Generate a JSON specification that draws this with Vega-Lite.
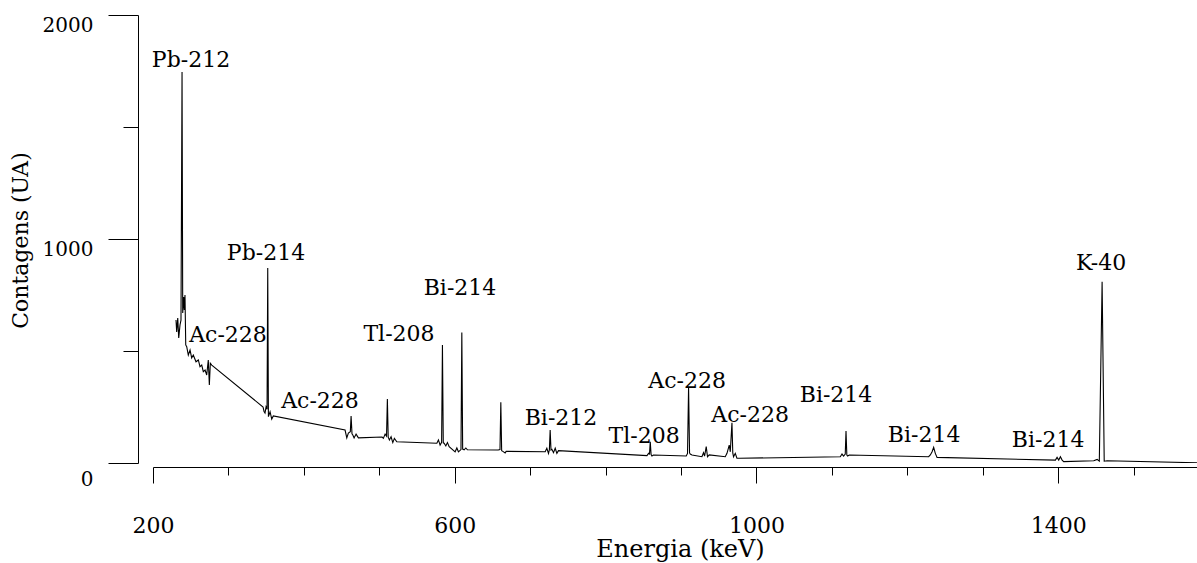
{
  "$schema": "https://vega.github.io/schema/vega-lite/v6.json",
  "width": 1044,
  "height": 448,
  "autosize": {"type": "none"},
  "padding": {"left": 153, "top": 15, "right": 0, "bottom": 100},
  "background": "white",
  "config": {"view": {"stroke": null}, "font": "DejaVu Serif"},
  "datasets": {
    "spectrum": [
      {"energia": 230.5, "contagens": 638}, {"energia": 231.4, "contagens": 585}, {"energia": 232.8, "contagens": 647},
      {"energia": 234.1, "contagens": 558}, {"energia": 235.8, "contagens": 616}, {"energia": 237.1, "contagens": 638},
      {"energia": 238.5, "contagens": 1745}, {"energia": 239.4, "contagens": 670}, {"energia": 240.7, "contagens": 741},
      {"energia": 241.5, "contagens": 683}, {"energia": 242.4, "contagens": 750}, {"energia": 243.4, "contagens": 527},
      {"energia": 244.7, "contagens": 519}, {"energia": 246.8, "contagens": 482}, {"energia": 249.1, "contagens": 504},
      {"energia": 251.3, "contagens": 469}, {"energia": 253.4, "contagens": 482}, {"energia": 257.0, "contagens": 452},
      {"energia": 260.1, "contagens": 460}, {"energia": 262.3, "contagens": 430}, {"energia": 264.6, "contagens": 437},
      {"energia": 266.7, "contagens": 408}, {"energia": 269.0, "contagens": 415}, {"energia": 271.2, "contagens": 393},
      {"energia": 273.3, "contagens": 460}, {"energia": 274.7, "contagens": 348}, {"energia": 276.0, "contagens": 445},
      {"energia": 277.9, "contagens": 437},
      {"energia": 345.9, "contagens": 250}, {"energia": 347.2, "contagens": 230}, {"energia": 348.5, "contagens": 223},
      {"energia": 349.9, "contagens": 251}, {"energia": 351.2, "contagens": 240}, {"energia": 352.1, "contagens": 870},
      {"energia": 353.0, "contagens": 207}, {"energia": 355.2, "contagens": 229}, {"energia": 357.4, "contagens": 196},
      {"energia": 359.5, "contagens": 210},
      {"energia": 454.6, "contagens": 147}, {"energia": 456.9, "contagens": 112}, {"energia": 459.0, "contagens": 134},
      {"energia": 461.6, "contagens": 140}, {"energia": 462.6, "contagens": 210}, {"energia": 463.8, "contagens": 130},
      {"energia": 464.9, "contagens": 125}, {"energia": 466.6, "contagens": 112}, {"energia": 469.2, "contagens": 129},
      {"energia": 472.3, "contagens": 112},
      {"energia": 503.7, "contagens": 116}, {"energia": 505.4, "contagens": 110}, {"energia": 507.7, "contagens": 129},
      {"energia": 509.6, "contagens": 120}, {"energia": 510.7, "contagens": 286}, {"energia": 511.8, "contagens": 115},
      {"energia": 513.4, "contagens": 103}, {"energia": 515.6, "contagens": 117}, {"energia": 517.9, "contagens": 91},
      {"energia": 520.0, "contagens": 110}, {"energia": 523.2, "contagens": 95},
      {"energia": 576.3, "contagens": 88}, {"energia": 578.4, "contagens": 103}, {"energia": 580.6, "contagens": 80},
      {"energia": 582.6, "contagens": 92}, {"energia": 583.7, "contagens": 527}, {"energia": 584.8, "contagens": 90},
      {"energia": 585.9, "contagens": 88}, {"energia": 588.2, "contagens": 76}, {"energia": 590.3, "contagens": 91},
      {"energia": 592.6, "contagens": 73},
      {"energia": 600.5, "contagens": 50}, {"energia": 602.8, "contagens": 67}, {"energia": 604.9, "contagens": 50},
      {"energia": 608.3, "contagens": 60}, {"energia": 609.4, "contagens": 583}, {"energia": 610.5, "contagens": 62},
      {"energia": 612.5, "contagens": 59}, {"energia": 614.7, "contagens": 67}, {"energia": 616.8, "contagens": 59},
      {"energia": 657.6, "contagens": 58}, {"energia": 660.0, "contagens": 60}, {"energia": 661.1, "contagens": 271},
      {"energia": 662.2, "contagens": 55}, {"energia": 663.8, "contagens": 52}, {"energia": 666.8, "contagens": 45},
      {"energia": 668.2, "contagens": 52},
      {"energia": 719.9, "contagens": 50}, {"energia": 722.1, "contagens": 66}, {"energia": 724.3, "contagens": 43},
      {"energia": 725.5, "contagens": 60}, {"energia": 726.5, "contagens": 147}, {"energia": 727.6, "contagens": 58},
      {"energia": 728.8, "contagens": 61}, {"energia": 730.9, "contagens": 46}, {"energia": 733.2, "contagens": 66},
      {"energia": 735.4, "contagens": 43}, {"energia": 737.5, "contagens": 55},
      {"energia": 854.8, "contagens": 33}, {"energia": 857.0, "contagens": 43}, {"energia": 858.2, "contagens": 40},
      {"energia": 859.2, "contagens": 95}, {"energia": 860.3, "contagens": 38}, {"energia": 861.4, "contagens": 31},
      {"energia": 863.5, "contagens": 36},
      {"energia": 906.9, "contagens": 31}, {"energia": 908.6, "contagens": 43}, {"energia": 910.0, "contagens": 338},
      {"energia": 911.3, "contagens": 45}, {"energia": 912.2, "contagens": 40}, {"energia": 914.5, "contagens": 36},
      {"energia": 927.7, "contagens": 28}, {"energia": 929.8, "contagens": 46}, {"energia": 931.2, "contagens": 31},
      {"energia": 933.4, "contagens": 73}, {"energia": 935.1, "contagens": 28}, {"energia": 937.4, "contagens": 36},
      {"energia": 958.6, "contagens": 28}, {"energia": 960.9, "contagens": 43}, {"energia": 963.9, "contagens": 80},
      {"energia": 965.3, "contagens": 50}, {"energia": 967.5, "contagens": 180}, {"energia": 968.6, "contagens": 45},
      {"energia": 969.6, "contagens": 28}, {"energia": 971.9, "contagens": 43}, {"energia": 974.1, "contagens": 21},
      {"energia": 977.6, "contagens": 21},
      {"energia": 1111.1, "contagens": 28}, {"energia": 1113.4, "contagens": 40}, {"energia": 1115.5, "contagens": 31},
      {"energia": 1117.7, "contagens": 40}, {"energia": 1118.7, "contagens": 143}, {"energia": 1119.8, "contagens": 35},
      {"energia": 1120.8, "contagens": 31}, {"energia": 1123.1, "contagens": 36},
      {"energia": 1228.2, "contagens": 28}, {"energia": 1230.5, "contagens": 36}, {"energia": 1232.8, "contagens": 50},
      {"energia": 1234.9, "contagens": 70}, {"energia": 1237.1, "contagens": 43}, {"energia": 1239.4, "contagens": 25},
      {"energia": 1396.3, "contagens": 13}, {"energia": 1398.5, "contagens": 25}, {"energia": 1400.7, "contagens": 13},
      {"energia": 1402.9, "contagens": 28}, {"energia": 1405.2, "contagens": 13}, {"energia": 1407.3, "contagens": 6},
      {"energia": 1447.1, "contagens": 10}, {"energia": 1451.6, "contagens": 16}, {"energia": 1454.5, "contagens": 8},
      {"energia": 1458.2, "contagens": 809}, {"energia": 1461.0, "contagens": 8}, {"energia": 1464.9, "contagens": 10},
      {"energia": 1584.0, "contagens": 1}
    ],
    "labels": [
      {"nuclideo": "Pb-212", "energia": 250.4, "contagens": 1768},
      {"nuclideo": "Pb-214", "energia": 349.8, "contagens": 906},
      {"nuclideo": "Ac-228", "energia": 299.4, "contagens": 540},
      {"nuclideo": "Ac-228", "energia": 421.4, "contagens": 246},
      {"nuclideo": "Tl-208", "energia": 526.1, "contagens": 545},
      {"nuclideo": "Bi-214", "energia": 607.0, "contagens": 750},
      {"nuclideo": "Bi-212", "energia": 740.9, "contagens": 170},
      {"nuclideo": "Tl-208", "energia": 851.0, "contagens": 89},
      {"nuclideo": "Ac-228", "energia": 908.0, "contagens": 335},
      {"nuclideo": "Ac-228", "energia": 991.5, "contagens": 183},
      {"nuclideo": "Bi-214", "energia": 1105.5, "contagens": 272},
      {"nuclideo": "Bi-214", "energia": 1222.2, "contagens": 94},
      {"nuclideo": "Bi-214", "energia": 1386.6, "contagens": 71},
      {"nuclideo": "K-40", "energia": 1456.8, "contagens": 862}
    ]
  },
  "layer": [
    {
      "data": {"name": "spectrum"},
      "mark": {"type": "line", "color": "black", "strokeWidth": 1.1, "clip": true},
      "encoding": {
        "x": {
          "field": "energia", "type": "quantitative",
          "scale": {"domain": [200, 1584], "nice": false, "zero": false},
          "axis": {
            "title": "Energia (keV)",
            "values": [200, 300, 400, 500, 600, 700, 800, 900, 1000, 1100, 1200, 1300, 1400, 1500],
            "format": "d",
            "labelExpr": "datum.value % 400 == 200 ? datum.label : ''",
            "tickSize": {"condition": {"test": "datum.value % 400 == 200", "value": 16}, "value": 8},
            "offset": 4,
            "grid": false,
            "domainColor": "black", "tickColor": "black", "domainWidth": 1, "tickWidth": 1,
            "labelFont": "DejaVu Serif", "labelFontSize": 22, "labelColor": "black",
            "labelBaseline": "alphabetic", "labelPadding": 49, "labelFlush": false, "labelOverlap": false,
            "titleFont": "DejaVu Serif", "titleFontSize": 24, "titleFontWeight": "normal", "titleColor": "black",
            "titleX": 527, "titleY": 89, "titleBaseline": "alphabetic", "titleAlign": "center"
          }
        },
        "y": {
          "field": "contagens", "type": "quantitative",
          "scale": {"domain": [0, 2000], "nice": false},
          "axis": {
            "title": "Contagens (UA)",
            "values": [0, 500, 1000, 1500, 2000],
            "format": "d",
            "labelExpr": "datum.value % 1000 == 0 ? datum.label : ''",
            "tickSize": {"condition": {"test": "datum.value % 1000 == 0", "value": 30}, "value": 15},
            "offset": 15,
            "grid": false,
            "domainColor": "black", "tickColor": "black", "domainWidth": 1, "tickWidth": 1,
            "labelFont": "DejaVu Serif", "labelFontSize": 20, "labelColor": "black",
            "labelPadding": 15, "labelFlush": false, "labelOverlap": false,
            "labelOffset": {"condition": {"test": "datum.value == 0", "value": 16}, "value": 10},
            "titleFont": "DejaVu Serif", "titleFontSize": 22, "titleFontWeight": "normal", "titleColor": "black",
            "titleX": -118, "titleY": 225, "titleAngle": -90, "titleAlign": "center", "titleBaseline": "middle"
          }
        }
      }
    },
    {
      "data": {"name": "labels"},
      "mark": {"type": "text", "font": "DejaVu Serif", "fontSize": 22, "align": "center", "baseline": "alphabetic", "color": "black"},
      "encoding": {
        "x": {"field": "energia", "type": "quantitative"},
        "y": {"field": "contagens", "type": "quantitative"},
        "text": {"field": "nuclideo"}
      }
    }
  ]
}
